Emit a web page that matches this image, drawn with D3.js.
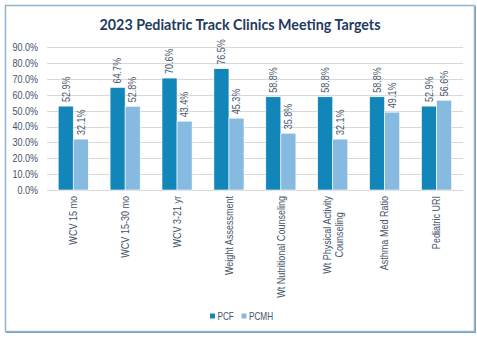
<!DOCTYPE html>
<html><head><meta charset="utf-8">
<script src="https://cdn.jsdelivr.net/npm/d3@7"></script>
<style>body{margin:0;background:#fff}svg{display:block}</style>
</head><body>
<script>
const categories = ["WCV 15 mo","WCV 15-30 mo","WCV 3-21 yr","Weight Assessment","Wt Nutritional Counseling","Wt Physical Activity|Counseling","Asthma Med Ratio","Pediatric URI"];
const seriesNames = ["PCF","PCMH"];
const pcf = [52.9,64.7,70.6,76.5,58.8,58.8,58.8,52.9];
const pcmh = [32.1,52.8,43.4,45.3,35.8,32.1,49.1,56.6];
const yTicks = [0,10,20,30,40,50,60,70,80,90];
const colors = ["#1386b9","#87bae1"];
const title = "2023 Pediatric Track Clinics Meeting Targets";

const W=477,H=339;
const svg=d3.select("body").append("svg").attr("width",W).attr("height",H);
const font="'Liberation Sans', Arial, sans-serif";
const fs=10.5, sx=0.86;
const txtCol="#44546a";

svg.append("rect").attr("x",5.5).attr("y",5.5).attr("width",469).attr("height",326)
  .attr("fill","#fff").attr("stroke","#95b4cb").attr("stroke-width",1.5);
svg.append("line").attr("x1",6).attr("x2",476).attr("y1",332.5).attr("y2",332.5).attr("stroke","#7f9fb8").attr("stroke-width",1);
svg.append("line").attr("x1",475.5).attr("x2",475.5).attr("y1",6).attr("y2",333).attr("stroke","#7f9fb8").attr("stroke-width",1);

svg.append("text").attr("x",240).attr("y",30).attr("text-anchor","middle")
  .attr("font-family","Lato, 'Open Sans', sans-serif").attr("font-weight","bold").attr("font-size",14.3)
  .attr("fill","#1f3a5f").text(title);

const x=d3.scaleBand().domain(categories).range([47.3,462.5]).paddingInner(0.42).paddingOuter(0.21);
const y=d3.scaleLinear().domain([0,90]).range([190,47.3]);

const g=svg.append("g");
g.selectAll(".grid").data(yTicks).join("line")
  .attr("x1",47).attr("x2",463).attr("y1",d=>Math.round(y(d))+0.5).attr("y2",d=>Math.round(y(d))+0.5)
  .attr("stroke","#d9d9d9").attr("stroke-width",1);
g.selectAll(".yl").data(yTicks).join("text")
  .attr("transform",d=>`translate(38,${y(d)+3.8}) scale(${sx},1)`).attr("text-anchor","end")
  .attr("font-family",font).attr("font-size",fs).attr("fill",txtCol)
  .text(d=>d.toFixed(1)+"%");

const bw=x.bandwidth()/2;
const data=[pcf,pcmh];
data.forEach((vals,si)=>{
  g.selectAll(".bar"+si).data(vals).join("rect")
    .attr("x",(d,i)=>x(categories[i])+si*bw).attr("width",bw)
    .attr("y",d=>y(d)).attr("height",d=>y(0)-y(d))
    .attr("fill",colors[si]).attr("stroke","#fff").attr("stroke-width",0.6);
  g.selectAll(".lab"+si).data(vals).join("text")
    .attr("transform",(d,i)=>`translate(${x(categories[i])+si*bw+bw/2+3.8},${y(d)-4}) rotate(-90) scale(${sx},1)`)
    .attr("font-family",font).attr("font-size",fs).attr("fill",txtCol)
    .text(d=>d.toFixed(1)+"%");
});

categories.forEach(c=>{
  const lines=c.split("|");
  const cx=x(c)+x.bandwidth()/2;
  const top=196;
  const tg=g.append("g");
  const ts=lines.map((l,k)=>tg.append("text").attr("font-family",font).attr("font-size",fs).attr("fill",txtCol).text(l));
  if(lines.length===1){
    ts[0].attr("text-anchor","end").attr("transform",`translate(${cx+3.8},${top}) rotate(-90) scale(${sx},1)`);
  } else {
    const maxL=d3.max(ts,t=>t.node().getComputedTextLength())*sx;
    const n=lines.length, lh=12;
    ts.forEach((t,k)=>{
      const xx=cx+(k-(n-1)/2)*lh+3.8;
      t.attr("text-anchor","middle").attr("transform",`translate(${xx},${top+maxL/2}) rotate(-90) scale(${sx},1)`);
    });
  }
});

// legend
const leg=[{n:"PCF",x:210},{n:"PCMH",x:241.5}];
leg.forEach((l,i)=>{
  svg.append("rect").attr("x",l.x).attr("y",313.5).attr("width",5).attr("height",5).attr("fill",colors[i]);
  svg.append("text").attr("transform",`translate(${l.x+7.5},319.5) scale(0.82,1)`).attr("font-family",font).attr("font-size",10).attr("fill",txtCol).text(l.n);
});
</script>
</body></html>
